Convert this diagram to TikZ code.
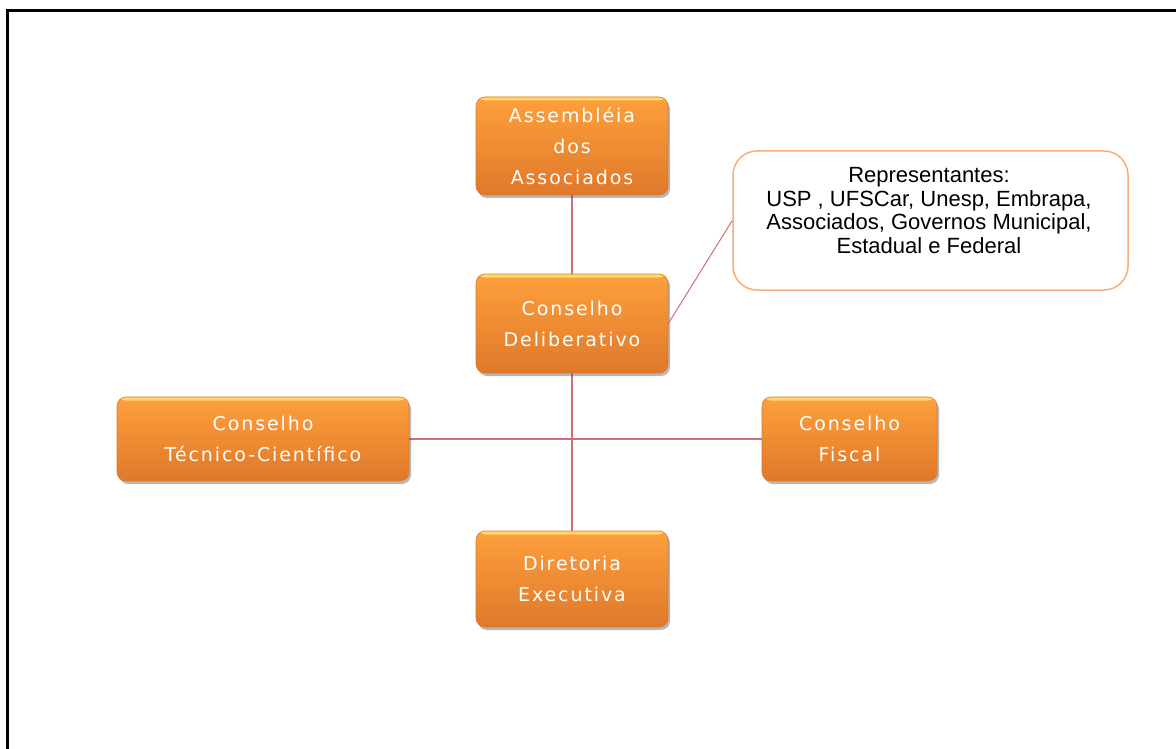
\documentclass[tikz,border=0pt]{standalone}
\usepackage{fontspec}
\setmainfont{Liberation Sans}
\newfontfamily\boxfont[LetterSpace=10]{DejaVu Sans}
\usetikzlibrary{shadows,backgrounds}
\definecolor{orgtop}{HTML}{FDA03C}
\definecolor{orgbot}{HTML}{E0782A}
\definecolor{orgedge}{HTML}{D9782E}
\definecolor{orghigh}{HTML}{FFD86A}
\definecolor{linkred}{HTML}{CC6F7A}
\definecolor{calloutedge}{HTML}{F8AE78}
\tikzset{
  orgbox/.style={rounded corners=9pt, top color=orgtop, bottom color=orgbot,
    draw=orgedge, line width=0.6pt, text=white, align=center, inner sep=0pt,
    font=\boxfont\fontsize{19}{31}\selectfont,
    drop shadow={shadow xshift=2pt, shadow yshift=-3pt, opacity=0.4, fill=black!70},
    path picture={\fill[orghigh] (path picture bounding box.north west)
      rectangle ([yshift=-3.5pt]path picture bounding box.north east);}},
  link/.style={draw=linkred, line width=1.2pt},
  callout/.style={rounded corners=24pt, draw=calloutedge, line width=1.5pt, fill=white,
    minimum width=395pt, minimum height=139pt},
  callouttext/.style={align=center, font=\fontsize{22}{23.5}\selectfont, inner sep=0pt}
}
\begin{document}
\begin{tikzpicture}[x=1pt, y=-1pt]
\useasboundingbox (0,0) rectangle (1176,749);
% page frame (top and left rules only)
\draw[line width=3pt] (7,749) -- (7,11) -- (1176,11);

% organisation boxes
\node[orgbox, minimum width=192pt, minimum height=98pt] (asm) at (572,146)
  {Assembléia\\dos\\Associados};
\node[orgbox, minimum width=192pt, minimum height=99pt] (del) at (572,323.5)
  {Conselho\\Deliberativo};
\node[orgbox, minimum width=292pt, minimum height=84pt] (tec) at (263,439)
  {Conselho\\Técnico-Científico};
\node[orgbox, minimum width=175pt, minimum height=84pt] (fis) at (849.5,439)
  {Conselho\\Fiscal};
\node[orgbox, minimum width=192pt, minimum height=96pt] (dir) at (572,579)
  {Diretoria\\Executiva};

% callout with the list of representatives
\node[callout] (call) at (930.5,220.5) {};
\node[callouttext] (calltext) at (929,210.5)
  {Representantes:\\USP , UFSCar, Unesp, Embrapa,\\Associados, Governos Municipal,\\Estadual e Federal};

% connectors
\begin{scope}[on background layer]
\draw[link] (asm.south) -- (dir.north);
\draw[link] (tec.east) -- (fis.west);
\end{scope}
\draw[link, line width=1pt] (del.east) -- (call.west);
\end{tikzpicture}
\end{document}
